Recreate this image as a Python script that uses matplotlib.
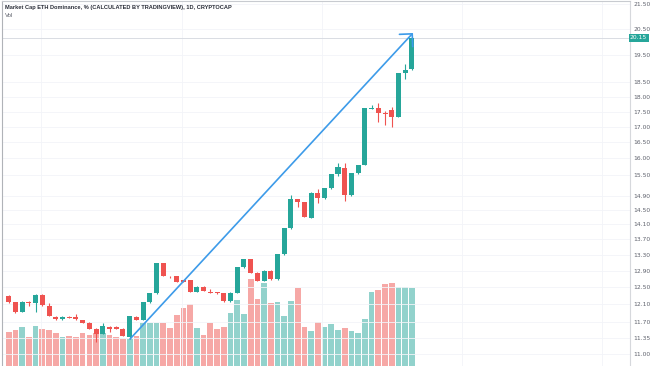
import matplotlib
matplotlib.use("Agg")
import matplotlib.pyplot as plt
import numpy as np

# daily candles, ETH dominance %
opens = [12.29, 12.14, 11.93, 12.16, 12.12, 12.32, 12.06, 11.81, 11.76, 11.81,
         11.81, 11.74, 11.68, 11.55, 11.44, 11.59, 11.59, 11.55, 11.37, 11.81,
         11.74, 12.14, 12.36, 13.09, 12.75, 12.77, 12.67, 12.67, 12.39, 12.51,
         12.39, 12.37, 12.36, 12.17, 12.37, 12.99, 13.19, 12.85, 12.66, 12.90,
         12.69, 13.31, 13.99, 14.79, 14.72, 14.28, 14.98, 14.82, 15.11, 15.53,
         15.70, 14.91, 15.55, 15.80, 17.58, 17.61, 17.46, 17.55, 17.33, 18.83,
         18.97]
closes = [12.14, 11.93, 12.16, 12.12, 12.32, 12.08, 11.83, 11.76, 11.81, 11.79,
          11.76, 11.68, 11.55, 11.44, 11.61, 11.55, 11.55, 11.39, 11.83, 11.74,
          12.14, 12.36, 13.09, 12.77, 12.74, 12.63, 12.63, 12.39, 12.51, 12.42,
          12.37, 12.36, 12.17, 12.37, 12.99, 13.19, 12.85, 12.66, 12.90, 12.69,
          13.31, 13.99, 14.79, 14.72, 14.31, 14.98, 14.82, 15.11, 15.53, 15.74,
          14.91, 15.55, 15.80, 17.61, 17.63, 17.44, 17.41, 17.33, 18.83, 18.95,
          20.15]
highs = [12.31, 12.15, 12.17, 12.17, 12.33, 12.33, 12.13, 11.82, 11.82, 11.82,
         11.87, 11.75, 11.69, 11.56, 11.68, 11.60, 11.60, 11.56, 11.84, 11.82,
         12.15, 12.37, 13.10, 13.10, 12.76, 12.78, 12.68, 12.68, 12.52, 12.52,
         12.46, 12.38, 12.37, 12.38, 13.00, 13.20, 13.20, 12.86, 12.91, 12.91,
         13.32, 14.00, 14.91, 14.80, 14.73, 14.99, 15.09, 15.12, 15.54, 15.86,
         15.85, 15.56, 15.81, 17.62, 17.72, 17.79, 17.52, 17.65, 18.84, 19.17,
         20.17]
lows = [12.12, 11.90, 11.92, 12.06, 11.93, 12.07, 11.82, 11.75, 11.75, 11.78,
        11.75, 11.67, 11.54, 11.26, 11.43, 11.48, 11.54, 11.38, 11.32, 11.73,
        11.73, 12.13, 12.35, 12.76, 12.73, 12.62, 12.62, 12.38, 12.38, 12.41,
        12.36, 12.35, 12.16, 12.16, 12.36, 12.98, 12.84, 12.65, 12.65, 12.68,
        12.68, 13.30, 13.98, 14.58, 14.30, 14.27, 14.69, 14.81, 15.08, 15.48,
        14.75, 14.90, 15.54, 15.79, 17.57, 17.16, 17.05, 16.99, 17.32, 18.63,
        18.96]
# volume, relative units
volume = [34.3, 36.0, 38.7, 29.3, 40.3, 36.7, 36.0, 33.3, 29.3, 30.3,
          29.3, 32.7, 31.0, 33.3, 32.7, 31.0, 28.7, 26.7, 27.0, 30.0,
          43.3, 43.3, 42.7, 43.3, 37.7, 51.0, 57.7, 62.0, 37.7, 31.0,
          42.7, 36.7, 39.3, 53.0, 66.3, 52.0, 87.0, 67.3, 83.3, 63.3,
          64.3, 50.0, 65.3, 78.3, 39.3, 35.0, 44.3, 39.3, 41.7, 36.0,
          38.3, 35.0, 32.7, 47.0, 74.3, 76.0, 81.7, 82.7, 78.7, 78.7,
          78.3]
price_ticks = [11.00, 11.35, 11.70, 12.10, 12.50, 12.90, 13.30, 13.70, 14.10, 14.50,
               14.90, 15.50, 16.00, 16.50, 17.00, 17.50, 18.00, 18.50, 19.50, 20.50, 21.50]
last_price = 20.15
title = "Market Cap ETH Dominance, % (CALCULATED BY TRADINGVIEW), 1D, CRYPTOCAP"

UP, DOWN = "#26a69a", "#ef5350"
VUP, VDOWN = "#92d2cc", "#f6a8a6"

x = np.arange(len(opens))
o = np.array(opens); c = np.array(closes)
up = c >= o

fig = plt.figure(figsize=(6.54, 3.66), dpi=100)
ax = fig.add_axes([2 / 654, 0, 628 / 654, 0.997])
ax2 = ax.twinx()
ax.set_zorder(ax2.get_zorder() + 1)
ax.patch.set_visible(False)

# volume underneath
ax2.bar(x, volume, width=0.85, color=np.where(up, VUP, VDOWN), linewidth=0)
ax2.set_ylim(0, max(volume) / 0.238)
ax2.set_yticks([])

ax.set_yscale("log")
ax.set_xlim(-1.0, 92.45)
ax.set_ylim(10.75, 21.62)

for i in x:
    col = UP if up[i] else DOWN
    ax.vlines(i, lows[i], highs[i], color=col, lw=0.8, zorder=3)
    lo, hi = min(o[i], c[i]), max(o[i], c[i])
    hi = max(hi, lo * 1.0012)
    ax.bar(i, hi - lo, bottom=lo, width=0.75, color=col, linewidth=0, zorder=4)

# last price line
ax.axhline(last_price, color="#d9dce3", lw=0.7, zorder=1)

# the trend arrow
ax.annotate("", xy=(60.16, 20.34), xytext=(18.05, 11.32),
            arrowprops=dict(arrowstyle="->,head_length=0.65,head_width=0.65",
                            color="#3d9be9", lw=1.2, shrinkA=0, shrinkB=0),
            zorder=6)

# faint grid
for t in price_ticks:
    ax.axhline(t, color="#f2f4f8", lw=0.6, zorder=0)
for gx in [4.8, 25.8, 46.6, 67.5, 88.3]:
    ax.axvline(gx, color="#f2f4f8", lw=0.6, zorder=0)

ax.set_xticks([])
ax.yaxis.tick_right()
ax.set_yticks(price_ticks)
ax.set_yticklabels(["%.2f" % t for t in price_ticks])
ax.yaxis.set_minor_locator(matplotlib.ticker.NullLocator())
ax.tick_params(axis="y", length=0, pad=2.5, labelsize=4.3, labelcolor="#5d606b")
ax.spines["bottom"].set_visible(False)
ax.spines["top"].set_color("#c8cbd0")
ax.spines["left"].set_color("#b0b3b8")
ax.spines["right"].set_color("#d6d8dc")
for s in ["top", "bottom", "left", "right"]:
    ax2.spines[s].set_visible(False)

ax.text(1.0, last_price, "%.2f" % last_price, transform=ax.get_yaxis_transform(),
        fontsize=4.3, color="white", va="center", ha="left",
        bbox=dict(boxstyle="square,pad=0.25", fc=UP, ec="none"), zorder=10, clip_on=False)

ax.text(3 / 628, 1 - 6 / 366, title, transform=ax.transAxes, fontsize=4.1,
        fontweight="bold", color="#2a2e39", va="center", ha="left", family="Liberation Sans")
ax.text(3 / 628, 1 - 14.5 / 366, "Vol", transform=ax.transAxes, fontsize=4.3,
        color="#5d606b", va="center", ha="left", family="Liberation Sans")

fig.savefig("out.png", dpi=100)
